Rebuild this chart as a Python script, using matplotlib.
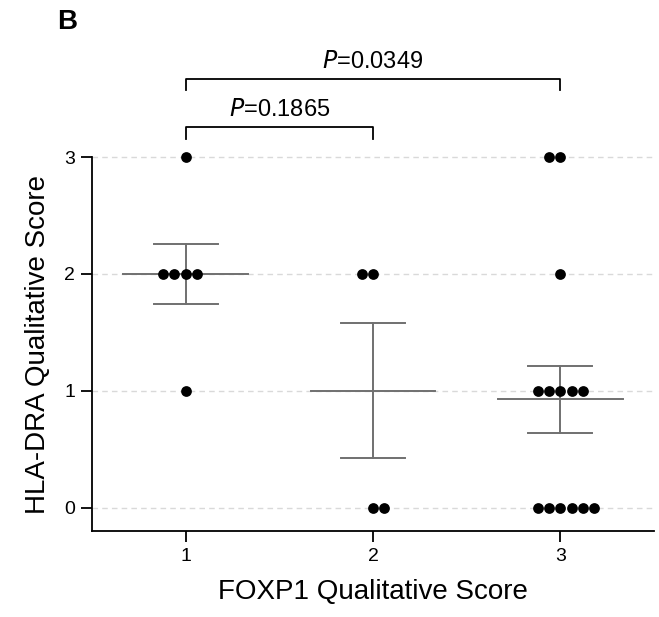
import numpy as np
import matplotlib
matplotlib.use("Agg")
import matplotlib.pyplot as plt

plt.rcParams['font.family'] = ['Liberation Sans', 'DejaVu Sans']

# FOXP1 groups and HLA-DRA scores per sample
groups = [1, 2, 3]
group_labels = ['1', '2', '3']
score_g1 = [3, 2, 2, 2, 2, 1]
score_g2 = [2, 2, 0, 0]
score_g3 = [3, 3, 2, 1, 1, 1, 1, 1, 0, 0, 0, 0, 0, 0]
pvals = [('0.1865', 1, 2), ('0.0349', 1, 3)]
yticks = [0, 1, 2, 3]

fig = plt.figure(figsize=(6.59, 6.17), dpi=100)
ax = fig.add_axes([0.1396, 0.1394, 0.8528, 0.6061])

bar_col = '#707070'
step = 0.06
for g, vals in zip(groups, [score_g1, score_g2, score_g3]):
    vals = np.array(vals, dtype=float)
    # spread tied values sideways (bottom row leans right)
    for v in np.unique(vals):
        n = int((vals == v).sum())
        shift = n // 2 if v > 0 else (n - 1) // 2
        offs = (np.arange(n) - shift) * step
        ax.scatter(g + offs, [v] * n, s=60, color='black', zorder=4,
                   clip_on=False, linewidths=0)
    m = vals.mean()
    sem = vals.std(ddof=1) / np.sqrt(len(vals))
    ax.plot([g - 0.333, g + 0.333], [m, m], color=bar_col, lw=1.4, zorder=3)
    ax.plot([g, g], [m - sem, m + sem], color=bar_col, lw=1.4, zorder=3)
    for y in (m - sem, m + sem):
        ax.plot([g - 0.17, g + 0.17], [y, y], color=bar_col, lw=1.4, zorder=3)

for y in yticks:
    ax.plot([0.5, 3.5], [y, y], color='#d9d9d9', lw=1.0, ls=(0, (4, 3)),
            zorder=1, clip_on=False)

# significance brackets
levels = [(3.26, 3.15, 3.40), (3.67, 3.57, 3.81)]
for (p, a, b), (top, bot, ty) in zip(pvals, levels):
    ax.plot([a, a, b, b], [bot, top, top, bot], color='black', lw=1.3,
            clip_on=False)
    ax.text((a + b) / 2, ty, r'$\it{P}$=' + p, ha='center', va='center',
            fontsize=17)

ax.set_xlim(0.5, 3.5)
ax.set_ylim(-0.2, 3)
ax.set_xticks(groups)
ax.set_xticklabels(group_labels)
ax.set_yticks(yticks)
ax.spines['top'].set_visible(False)
ax.spines['right'].set_visible(False)
for s in ('left', 'bottom'):
    ax.spines[s].set_linewidth(1.3)
ax.tick_params(direction='out', length=8, width=1.3, labelsize=14, pad=4)
ax.set_xlabel('FOXP1 Qualitative Score', fontsize=20, labelpad=10)
ax.set_ylabel('HLA-DRA Qualitative Score', fontsize=20, labelpad=10)

fig.text(0.102, 0.964, 'B', fontsize=20, fontweight='bold', ha='center', va='center')

fig.savefig('out.png', dpi=100)
